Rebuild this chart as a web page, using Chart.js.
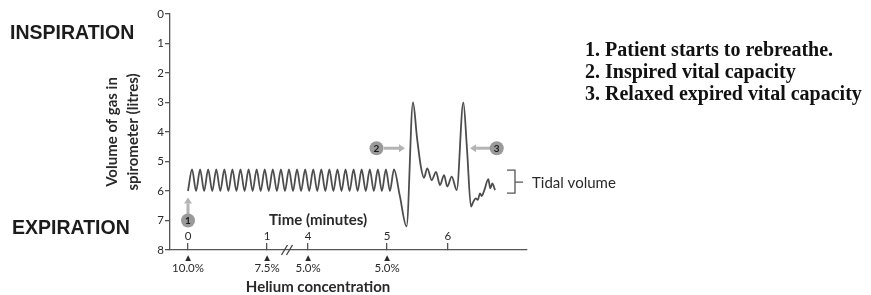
<!DOCTYPE html>
<html>
<head>
<meta charset="utf-8">
<title>Spirometer trace</title>
<script src="https://cdn.jsdelivr.net/npm/chart.js@4.4.1/dist/chart.umd.min.js"></script>
<style>
  html, body { margin: 0; padding: 0; background: #fff; }
  #wrap { position: relative; width: 871px; height: 295px; overflow: hidden; }
  #chart { position: absolute; left: 0; top: 0; }
  .side { position: absolute; font-family: "Liberation Sans", Arial, sans-serif; font-weight: bold;
          font-size: 19.5px; line-height: 1; color: #1c1c1c; white-space: nowrap; }
  #notes { position: absolute; left: 585px; top: 38px; font-family: "Liberation Serif", "Times New Roman", serif;
           font-weight: bold; font-size: 20px; line-height: 22px; color: #111; white-space: nowrap; }
</style>
</head>
<body>
<div id="wrap">
  <canvas id="chart" width="871" height="295"></canvas>
  <div class="side" style="left:10px; top:23px;">INSPIRATION</div>
  <div class="side" style="left:12px; top:218px;">EXPIRATION</div>
  <div id="notes">
    <div>1. Patient starts to rebreathe.</div>
    <div>2. Inspired vital capacity</div>
    <div>3. Relaxed expired vital capacity</div>
  </div>
</div>
<script>
// Time axis is broken between 1 and 4 min, so x values are "drawn minutes":
// 0 -> 0, 1 -> 1, 4 -> 1.52, 5 -> 2.52, 6 -> 3.29
const timeTickPos = [0, 1, 1.52, 2.52, 3.29];
const timeTickLabels = ['0', '1', '4', '5', '6'];

const heliumTickPos = [0, 1, 1.52, 2.52];
const heliumLabels = ['10.0%', '7.5%', '5.0%', '5.0%'];

const volumeTicks = [0, 1, 2, 3, 4, 5, 6, 7, 8];

// spirometer trace (drawn minutes, litres)
const traceTime = [
  0.000, 0.051, 0.102, 0.153, 0.204, 0.255, 0.307, 0.358, 0.409, 0.460,
  0.511, 0.562, 0.613, 0.664, 0.716, 0.767, 0.818, 0.869, 0.920, 0.971,
  1.022, 1.073, 1.125, 1.176, 1.227, 1.278, 1.329, 1.380, 1.431, 1.483,
  1.534, 1.585, 1.636, 1.687, 1.738, 1.789, 1.840, 1.892, 1.943, 1.994,
  2.045, 2.096, 2.147, 2.198, 2.250, 2.301, 2.352, 2.403, 2.454, 2.505,
  2.556, 2.607, 2.680, 2.766, 2.848, 2.899, 2.949, 2.987, 3.029, 3.085,
  3.139, 3.190, 3.241, 3.282, 3.338, 3.401, 3.485, 3.532, 3.582, 3.612,
  3.642, 3.668, 3.696, 3.718, 3.751, 3.801, 3.827, 3.852, 3.886
];
const traceVolume = [
  6.00, 5.27, 6.00, 5.27, 6.00, 5.27, 6.00, 5.27, 6.00, 5.27,
  6.00, 5.27, 6.00, 5.27, 6.00, 5.27, 6.00, 5.27, 6.00, 5.27,
  6.00, 5.27, 6.00, 5.27, 6.00, 5.27, 6.00, 5.27, 6.00, 5.27,
  6.00, 5.27, 6.00, 5.27, 6.00, 5.27, 6.00, 5.27, 6.00, 5.27,
  6.00, 5.27, 6.00, 5.27, 6.00, 5.27, 6.00, 5.27, 6.00, 5.27,
  6.00, 5.27, 6.15, 7.20, 3.00, 4.20, 5.20, 5.55, 5.23, 5.63,
  5.35, 5.80, 5.46, 5.85, 5.51, 5.97, 3.00, 4.60, 6.53, 6.36,
  6.25, 6.30, 6.08, 6.17, 5.97, 5.60, 5.91, 5.74, 5.97
];

// numbered markers: [label, circle x, circle y, arrow from x, from y, to x, to y]
const markers = [
  ['1', 0.000, 7.00, 0.000, 6.78, 0.000, 6.22],
  ['2', 2.386, 4.55, 2.481, 4.55, 2.747, 4.55],
  ['3', 3.908, 4.55, 3.823, 4.55, 3.570, 4.55]
];

const axisColor = '#555';
const textColor = '#2a2a2a';
const sans = 'Lato, "DejaVu Sans", sans-serif';

function drawArrow(ctx, x1, y1, x2, y2) {
  const a = Math.atan2(y2 - y1, x2 - x1);
  const hl = 6, hw = 4;
  const bx = x2 - hl * Math.cos(a), by = y2 - hl * Math.sin(a);
  ctx.beginPath();
  ctx.moveTo(x1, y1);
  ctx.lineTo(bx, by);
  ctx.stroke();
  ctx.beginPath();
  ctx.moveTo(x2, y2);
  ctx.lineTo(bx + hw * Math.sin(a), by - hw * Math.cos(a));
  ctx.lineTo(bx - hw * Math.sin(a), by + hw * Math.cos(a));
  ctx.closePath();
  ctx.fill();
}

const annotate = {
  id: 'annotate',
  afterDraw(chart) {
    const { ctx, scales: { x, y } } = chart;
    const px = v => x.getPixelForValue(v);
    const py = v => y.getPixelForValue(v);
    ctx.save();

    // axis break
    const bx = px(1.253), by = py(8);
    ctx.strokeStyle = '#444';
    ctx.lineWidth = 1.3;
    [-2.5, 2.5].forEach(d => {
      ctx.beginPath();
      ctx.moveTo(bx + d - 3, by + 5);
      ctx.lineTo(bx + d + 3, by - 5);
      ctx.stroke();
    });

    // markers with arrows
    markers.forEach(m => {
      ctx.strokeStyle = '#b4b4b4';
      ctx.fillStyle = '#b4b4b4';
      ctx.lineWidth = 3;
      drawArrow(ctx, px(m[3]), py(m[4]), px(m[5]), py(m[6]));
      ctx.beginPath();
      ctx.arc(px(m[1]), py(m[2]), 7, 0, Math.PI * 2);
      ctx.fillStyle = '#9a9a9a';
      ctx.fill();
      ctx.fillStyle = '#1a1a1a';
      ctx.font = 'bold 10px ' + sans;
      ctx.textAlign = 'center';
      ctx.textBaseline = 'middle';
      ctx.fillText(m[0], px(m[1]), py(m[2]) + 0.5);
    });

    // tidal volume bracket
    const l = px(4.038), r = px(4.139), t = py(5.29), b = py(6.07), mid = py(5.70);
    ctx.strokeStyle = '#555';
    ctx.lineWidth = 1.3;
    ctx.beginPath();
    ctx.moveTo(l, t); ctx.lineTo(r, t); ctx.lineTo(r, b); ctx.lineTo(l, b);
    ctx.moveTo(r, mid); ctx.lineTo(px(4.241), mid);
    ctx.stroke();
    ctx.fillStyle = textColor;
    ctx.font = '15px ' + sans;
    ctx.textAlign = 'left';
    ctx.textBaseline = 'middle';
    ctx.fillText('Tidal volume', px(4.354), py(5.73));

    // axis captions
    ctx.textAlign = 'center';
    ctx.font = 'bold 15px ' + sans;
    ctx.fillText('Time (minutes)', px(1.646), py(6.98));
    ctx.fillText('Helium concentration', px(1.646), py(9.25));

    ctx.restore();
  }
};

new Chart(document.getElementById('chart'), {
  type: 'line',
  data: {
    datasets: [{
      data: traceTime.map((t, i) => ({ x: t, y: traceVolume[i] })),
      borderColor: '#4d4d4d',
      borderWidth: 1.8,
      pointRadius: 0,
      cubicInterpolationMode: 'monotone',
      fill: false
    }]
  },
  options: {
    responsive: false,
    animation: false,
    layout: { padding: { left: 0, right: 344, top: 14, bottom: 0 } },
    plugins: { legend: { display: false }, tooltip: { enabled: false } },
    scales: {
      x: {
        type: 'linear',
        min: -0.228,
        max: 4.291,
        afterBuildTicks: s => { s.ticks = timeTickPos.map(v => ({ value: v })); },
        afterFit: s => { s.height = 0; },
        border: { display: true, color: axisColor, width: 1.3 },
        grid: { drawOnChartArea: false, drawTicks: true, tickLength: -7, color: axisColor, lineWidth: 1.3 },
        ticks: {
          autoSkip: false, maxRotation: 0, mirror: true, padding: 7,
          color: textColor, font: { family: sans, size: 11.5 },
          callback: (v, i) => timeTickLabels[i]
        }
      },
      x2: {
        type: 'linear',
        position: 'bottom',
        min: -0.228,
        max: 4.291,
        afterBuildTicks: s => { s.ticks = heliumTickPos.map(v => ({ value: v })); },
        afterFit: s => { s.height = 45; },
        border: { display: false },
        grid: { display: false, drawTicks: false },
        ticks: {
          autoSkip: false, maxRotation: 0, padding: 1.5,
          color: textColor, font: { family: sans, size: 11.5, lineHeight: 0.96 },
          callback: (v, i) => ['\u25B4', heliumLabels[i]]
        }
      },
      y: {
        reverse: true,
        min: 0,
        max: 8,
        afterBuildTicks: s => { s.ticks = volumeTicks.map(v => ({ value: v })); },
        afterFit: s => { s.width = 170; },
        border: { display: true, color: axisColor, width: 1.3 },
        grid: { drawOnChartArea: false, tickLength: 5, color: axisColor, lineWidth: 1.3 },
        ticks: { padding: 1, color: textColor, font: { family: sans, size: 11.5 } },
        title: {
          display: true,
          text: ['Volume of gas in', 'spirometer (litres)'],
          color: textColor,
          font: { family: sans, size: 15, weight: 'bold', lineHeight: 1.4 },
          padding: { top: 101.5, bottom: 0 }
        }
      }
    }
  },
  plugins: [annotate]
});
</script>
</body>
</html>
